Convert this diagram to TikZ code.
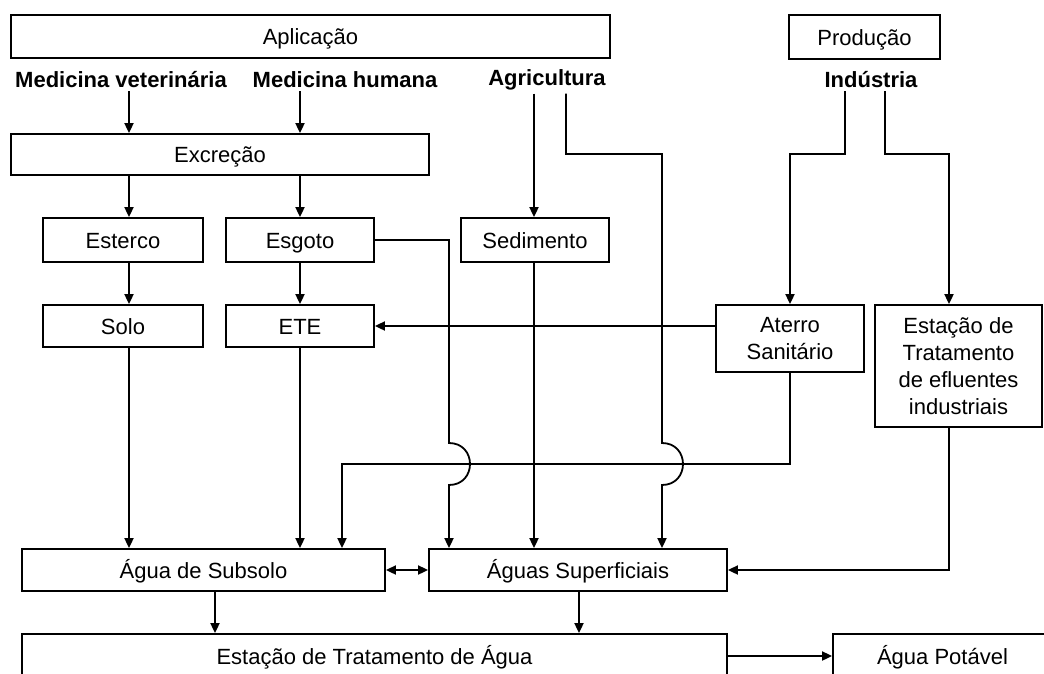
\documentclass[tikz,border=0pt]{standalone}
\usepackage{fontspec}
\setmainfont{Liberation Sans}
\usetikzlibrary{arrows.meta}
\begin{document}
\begin{tikzpicture}[x=1pt,y=-1pt,
  bx/.style={draw, line width=1.8pt, inner sep=0pt, text height=18pt, text depth=2pt, font=\fontsize{22}{27}\selectfont},
  mbx/.style={draw, line width=1.8pt, inner sep=0pt, align=center, font=\fontsize{22}{27}\selectfont},
  lbl/.style={inner sep=3pt, font=\fontsize{22}{27}\selectfont\bfseries},
  con/.style={line width=1.8pt, -{Triangle[length=10pt,width=9pt]}},
  dcon/.style={line width=1.8pt, {Triangle[length=10pt,width=9pt]}-{Triangle[length=10pt,width=9pt]}}]
\useasboundingbox (0,0) rectangle (1044,673);
\fill[white] (0,0) rectangle (1044,673);
\clip (0,0) rectangle (1044,673);
% column / row helpers
\coordinate (c1) at (129,0);
\coordinate (c2) at (300,0);
\coordinate (c3) at (534,0);
\coordinate (c4) at (566,0);
\coordinate (c5) at (662,0);
\coordinate (c6) at (449,0);
\coordinate (c7) at (845,0);
\coordinate (c8) at (885,0);
\coordinate (c9) at (949,0);
\coordinate (s1) at (342,0);
\coordinate (d1) at (215,0);
\coordinate (d2) at (579,0);
\coordinate (h1) at (0,154);
\coordinate (jy) at (0,464);
% nodes
\node[bx,minimum width=599pt,minimum height=43pt] (apl) at (310.5,36.5) {Aplicação};
\node[bx,minimum width=151pt,minimum height=44pt] (prod) at (864.5,37) {Produção};
\node[lbl] (medvet) at (121,80) {Medicina veterinária};
\node[lbl] (medhum) at (345,80) {Medicina humana};
\node[lbl] (agri) at (547,80) {Agricultura};
\node[lbl] (ind) at (871,80) {Indústria};
\node[bx,minimum width=418pt,minimum height=41pt] (exc) at (220,154.5) {Excreção};
\node[bx,minimum width=160pt,minimum height=44pt] (esterco) at (123,240) {Esterco};
\node[bx,minimum width=148pt,minimum height=44pt] (esgoto) at (300,240) {Esgoto};
\node[bx,minimum width=148pt,minimum height=44pt] (sed) at (535,240) {Sedimento};
\node[bx,minimum width=160pt,minimum height=42pt] (solo) at (123,326) {Solo};
\node[bx,minimum width=148pt,minimum height=42pt] (ete) at (300,326) {ETE};
\node[mbx,minimum width=148pt,minimum height=67pt] (aterro) at (790,338.5) {Aterro\\Sanitário};
\node[mbx,minimum width=167pt,minimum height=122pt] (eflu) at (958.5,366) {Estação de\\Tratamento\\de efluentes\\industriais};
\node[bx,minimum width=363pt,minimum height=42pt] (asub) at (203.5,570) {Água de Subsolo};
\node[bx,minimum width=298pt,minimum height=42pt] (asup) at (578,570) {Águas Superficiais};
\node[bx,minimum width=705pt,minimum height=44pt] (eta) at (374.5,656) {Estação de Tratamento de Água};
\node[bx,minimum width=219pt,minimum height=44pt] (apot) at (942.5,656) {Água Potável};
% connectors
\draw[con] (medvet.south -| c1) -- (exc.north -| c1);
\draw[con] (medhum.south -| c2) -- (exc.north -| c2);
\draw[con] (exc.south -| c1) -- (esterco.north -| c1);
\draw[con] (exc.south -| c2) -- (esgoto.north -| c2);
\draw[con] (esterco.south -| c1) -- (solo.north -| c1);
\draw[con] (esgoto.south -| c2) -- (ete.north -| c2);
\draw[con] (solo.south -| c1) -- (asub.north -| c1);
\draw[con] (ete.south -| c2) -- (asub.north -| c2);
\draw[con] (agri.south -| c3) -- (sed.north -| c3);
\draw[con] (sed.south -| c3) -- (asup.north -| c3);
\draw[con] (agri.south -| c4) -- (c4 |- h1) -- (c5 |- h1) -- ([yshift=21pt]c5 |- jy)
  .. controls +(28,0) and +(28,0) .. ([yshift=-21pt]c5 |- jy) -- (asup.north -| c5);
\draw[con] (esgoto.east) -- (esgoto.east -| c6) -- ([yshift=21pt]c6 |- jy)
  .. controls +(28,0) and +(28,0) .. ([yshift=-21pt]c6 |- jy) -- (asup.north -| c6);
\draw[con] (ind.south -| c7) -- (c7 |- h1) -- (aterro.north |- h1) -- (aterro.north);
\draw[con] (ind.south -| c8) -- (c8 |- h1) -- (c9 |- h1) -- (eflu.north -| c9);
\draw[con] (aterro.west |- ete.east) -- (ete.east);
\draw[con] (aterro.south) -- (aterro.south |- jy) -- (s1 |- jy) -- (asub.north -| s1);
\draw[con] (eflu.south -| c9) |- (asup.east);
\draw[dcon] (asub.east) -- (asup.west);
\draw[con] (asub.south -| d1) -- (eta.north -| d1);
\draw[con] (asup.south -| d2) -- (eta.north -| d2);
\draw[con] (eta.east) -- (apot.west);
\end{tikzpicture}
\end{document}
